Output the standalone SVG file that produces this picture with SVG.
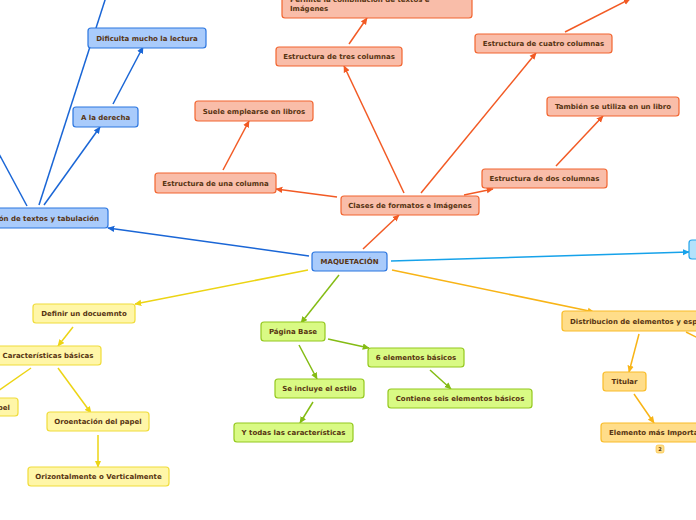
<svg xmlns="http://www.w3.org/2000/svg" width="696" height="520" viewBox="0 0 696 520">
<style>
rect{stroke-width:1.2}
text{font-family:"DejaVu Sans",Verdana,sans-serif;font-weight:bold;font-size:7px;fill:#573412;text-anchor:middle}
.b rect{fill:#a9cbfb;stroke:#2b76e0}
.o rect{fill:#f9bda9;stroke:#f26530}
.c rect{fill:#b3e2fb;stroke:#25a6ec}
.y rect{fill:#fff6a8;stroke:#f0dc3a}
.g rect{fill:#d9fa84;stroke:#94c81e}
.a rect{fill:#ffdd8a;stroke:#f9bc28}
#connectors path{fill:none;stroke-width:1.5}
.lb{stroke:#1a66d6}.lo{stroke:#f25a24}.lc{stroke:#16a2ea}.ly{stroke:#ecd414}.lg{stroke:#84bc14}.la{stroke:#f8b416}
</style>
<defs>
<marker id="mb" viewBox="0 0 10 10" refX="9" refY="5" markerWidth="7" markerHeight="7" markerUnits="userSpaceOnUse" orient="auto"><path d="M0,0.5 L10,5 L0,9.5 z" fill="#1a66d6"/></marker>
<marker id="mo" viewBox="0 0 10 10" refX="9" refY="5" markerWidth="7" markerHeight="7" markerUnits="userSpaceOnUse" orient="auto"><path d="M0,0.5 L10,5 L0,9.5 z" fill="#f25a24"/></marker>
<marker id="mc" viewBox="0 0 10 10" refX="9" refY="5" markerWidth="7" markerHeight="7" markerUnits="userSpaceOnUse" orient="auto"><path d="M0,0.5 L10,5 L0,9.5 z" fill="#16a2ea"/></marker>
<marker id="my" viewBox="0 0 10 10" refX="9" refY="5" markerWidth="7" markerHeight="7" markerUnits="userSpaceOnUse" orient="auto"><path d="M0,0.5 L10,5 L0,9.5 z" fill="#ecd414"/></marker>
<marker id="mg" viewBox="0 0 10 10" refX="9" refY="5" markerWidth="7" markerHeight="7" markerUnits="userSpaceOnUse" orient="auto"><path d="M0,0.5 L10,5 L0,9.5 z" fill="#84bc14"/></marker>
<marker id="ma" viewBox="0 0 10 10" refX="9" refY="5" markerWidth="7" markerHeight="7" markerUnits="userSpaceOnUse" orient="auto"><path d="M0,0.5 L10,5 L0,9.5 z" fill="#f8b416"/></marker>
</defs>
<g id="connectors">
<path class="lb" d="M309,256 L108,228" marker-end="url(#mb)"/>
<path class="lb" d="M27,206 L-2,152"/>
<path class="lb" d="M39,205 L106,-3"/>
<path class="lb" d="M44,205 L100,127" marker-end="url(#mb)"/>
<path class="lb" d="M113,104 L143,47" marker-end="url(#mb)"/>
<path class="lo" d="M363,249 L399,215" marker-end="url(#mo)"/>
<path class="lo" d="M337,197 L276,189" marker-end="url(#mo)"/>
<path class="lo" d="M223,170 L249,121" marker-end="url(#mo)"/>
<path class="lo" d="M404,193 L344,66" marker-end="url(#mo)"/>
<path class="lo" d="M349,44 L367,18" marker-end="url(#mo)"/>
<path class="lo" d="M421,193 L536,53" marker-end="url(#mo)"/>
<path class="lo" d="M565,32 L630,-1" marker-end="url(#mo)"/>
<path class="lo" d="M464,195 L493,189" marker-end="url(#mo)"/>
<path class="lo" d="M556,166 L603,116" marker-end="url(#mo)"/>
<path class="lc" d="M391,261 L689,252" marker-end="url(#mc)"/>
<path class="ly" d="M308,270 L135,304" marker-end="url(#my)"/>
<path class="ly" d="M73,327 L58,346" marker-end="url(#my)"/>
<path class="ly" d="M31,368 L-2,391"/>
<path class="ly" d="M58,368 L91,413" marker-end="url(#my)"/>
<path class="ly" d="M98,435 L98,467" marker-end="url(#my)"/>
<path class="lg" d="M339,275 L301,323" marker-end="url(#mg)"/>
<path class="lg" d="M328,339 L369,348" marker-end="url(#mg)"/>
<path class="lg" d="M430,370 L451,389" marker-end="url(#mg)"/>
<path class="lg" d="M299,345 L317,379" marker-end="url(#mg)"/>
<path class="lg" d="M313,402 L300,423" marker-end="url(#mg)"/>
<path class="la" d="M392,270 L594,312" marker-end="url(#ma)"/>
<path class="la" d="M686,332 L698,338"/>
<path class="la" d="M639,334 L629,372" marker-end="url(#ma)"/>
<path class="la" d="M634,394 L654,423" marker-end="url(#ma)"/>
</g>
<g id="n-maquetacion" class="b"><rect x="312" y="252" width="75" height="19" rx="3"/><text x="349.5" y="264">MAQUETACIÓN</text></g>
<g id="n-alineacion" class="b"><rect x="-10" y="208" width="118" height="20" rx="3"/><text x="99" y="220.5" style="text-anchor:end">ón de textos y tabulación</text></g>
<g id="n-derecha" class="b"><rect x="73" y="107" width="65" height="20" rx="3"/><text x="105.5" y="119.5">A la derecha</text></g>
<g id="n-dificulta" class="b"><rect x="88" y="28" width="118" height="20" rx="3"/><text x="147" y="40.5">Dificulta mucho la lectura</text></g>
<g id="n-clases" class="o"><rect x="341" y="196" width="138" height="19" rx="3"/><text x="410" y="208">Clases de formatos e Imágenes</text></g>
<g id="n-una" class="o"><rect x="155" y="173" width="121" height="20" rx="3"/><text x="215.5" y="185.5">Estructura de una columna</text></g>
<g id="n-suele" class="o"><rect x="195" y="101" width="118" height="20" rx="3"/><text x="254" y="113.5">Suele emplearse en libros</text></g>
<g id="n-tres" class="o"><rect x="276" y="47" width="126" height="19" rx="3"/><text x="339" y="59">Estructura de tres columnas</text></g>
<g id="n-permite" class="o"><rect x="282" y="-10" width="190" height="28" rx="3"/><text x="290" y="2" style="text-anchor:start">Permite la combinación de textos e</text><text x="290" y="10.5" style="text-anchor:start">Imágenes</text></g>
<g id="n-cuatro" class="o"><rect x="475" y="34" width="137" height="19" rx="3"/><text x="543.5" y="46">Estructura de cuatro columnas</text></g>
<g id="n-dos" class="o"><rect x="482" y="169" width="125" height="19" rx="3"/><text x="544.5" y="181">Estructura de dos columnas</text></g>
<g id="n-tambien" class="o"><rect x="547" y="97" width="132" height="19" rx="3"/><text x="613" y="109">También se utiliza en un libro</text></g>
<g id="n-right" class="c"><rect x="689" y="240" width="20" height="19" rx="3"/></g>
<g id="n-definir" class="y"><rect x="33" y="304" width="102" height="19" rx="3"/><text x="84" y="316">Definir un docuemnto</text></g>
<g id="n-caracteristicas" class="y"><rect x="-5" y="346" width="106" height="19" rx="3"/><text x="48" y="358">Características básicas</text></g>
<g id="n-papel" class="y"><rect x="-30" y="398" width="48" height="18" rx="3"/><text x="10" y="409.5" style="text-anchor:end">pel</text></g>
<g id="n-oroentacion" class="y"><rect x="47" y="412" width="102" height="19" rx="3"/><text x="98" y="424">Oroentación del papel</text></g>
<g id="n-orizontal" class="y"><rect x="28" y="467" width="141" height="19" rx="3"/><text x="98.5" y="479">Orizontalmente o Verticalmente</text></g>
<g id="n-pagina" class="g"><rect x="261" y="322" width="64" height="19" rx="3"/><text x="293" y="334">Página Base</text></g>
<g id="n-seis" class="g"><rect x="368" y="348" width="96" height="19" rx="3"/><text x="416" y="360">6 elementos básicos</text></g>
<g id="n-contiene" class="g"><rect x="388" y="389" width="144" height="19" rx="3"/><text x="460" y="401">Contiene seis elementos básicos</text></g>
<g id="n-estilo" class="g"><rect x="275" y="379" width="89" height="19" rx="3"/><text x="319.5" y="391">Se incluye el estilo</text></g>
<g id="n-todas" class="g"><rect x="234" y="423" width="119" height="19" rx="3"/><text x="293.5" y="435">Y todas las características</text></g>
<g id="n-distribucion" class="a"><rect x="562" y="311" width="150" height="20" rx="3"/><text x="570" y="323.5" style="text-anchor:start">Distribucion de elementos y esp</text></g>
<g id="n-titular" class="a"><rect x="603" y="372" width="43" height="19" rx="3"/><text x="624.5" y="384">Titular</text></g>
<g id="n-elemento" class="a"><rect x="601" y="423" width="110" height="19" rx="3"/><text x="609" y="435" style="text-anchor:start">Elemento más Importa</text></g>
<g id="n-badge" class="a"><rect x="656" y="445" width="8" height="8" rx="2" style="stroke-width:0.6"/><text x="660" y="451" style="font-size:5px">2</text></g>
</svg>
